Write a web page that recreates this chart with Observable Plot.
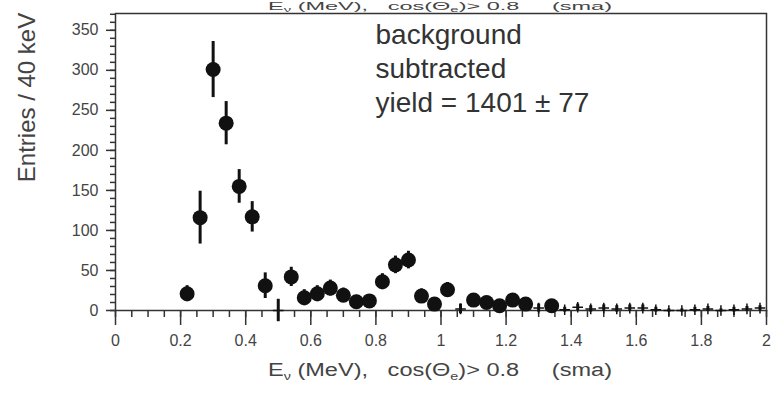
<!DOCTYPE html>
<html>
<head>
<meta charset="utf-8">
<script src="https://cdn.jsdelivr.net/npm/d3@7"></script>
<script src="https://cdn.jsdelivr.net/npm/@observablehq/plot@0.6"></script>
<style>
  html, body { margin: 0; padding: 0; background: #fff; }
  #chart { width: 777px; height: 393px; }
  svg { font-family: "Liberation Sans", Arial, sans-serif; }
</style>
</head>
<body>
<div id="chart"></div>
<script>
// Neutrino energy spectrum, 40 keV bins (bin centres in MeV)
const energy = [
  0.22, 0.26, 0.30, 0.34, 0.38, 0.42, 0.46, 0.50, 0.54, 0.58,
  0.62, 0.66, 0.70, 0.74, 0.78, 0.82, 0.86, 0.90, 0.94, 0.98,
  1.02, 1.06, 1.10, 1.14, 1.18, 1.22, 1.26, 1.30, 1.34, 1.38,
  1.42, 1.46, 1.50, 1.54, 1.58, 1.62, 1.66, 1.70, 1.74, 1.78,
  1.82, 1.86, 1.90, 1.94, 1.98
];
// Background-subtracted entries per bin
const entries = [
  21, 116, 301, 234, 155, 117, 31, 0, 42, 16,
  21, 28, 19, 11, 12, 36, 57, 63, 18, 8,
  26, 2, 13, 10, 6, 13, 8, 3, 6, 1,
  4, 2, 3, 2, 3, 3, 1, 0, 0, 1,
  2, 0, 1, 2, 3
];
// Statistical uncertainty per bin
const errors = [
  10, 33, 35, 27, 21, 19, 16, 14, 12, 10,
  10, 10, 9, 8, 8, 10, 11, 11, 9, 8,
  9, 6, 7, 7, 6, 7, 6, 5, 5, 3,
  4, 4, 4, 4, 4, 4, 3, 2, 2, 3,
  3, 2, 3, 3, 3
];

const xMajorTicks = [0, 0.2, 0.4, 0.6, 0.8, 1, 1.2, 1.4, 1.6, 1.8, 2];
const xMinorTicks = d3.range(0, 2.001, 0.05);
const yMajorTicks = [0, 50, 100, 150, 200, 250, 300, 350];
const yMinorTicks = d3.range(0, 371, 10);

const annotation = ["background", "subtracted", "yield = 1401 \u00b1 77"];
const yLabel = "Entries / 40 keV";

const rows = energy.map((e, i) => ({e, n: entries[i], err: errors[i]}));
const filled = rows.filter(d => d.n >= 5);
const faint = rows.filter(d => d.n < 5);

const ink = "#111";
const axisInk = "#333";
const labelInk = "#444";

const plot = Plot.plot({
  width: 777,
  height: 393,
  marginLeft: 115,
  marginRight: 11,
  marginTop: 13,
  marginBottom: 83,
  style: {fontFamily: "'Liberation Sans', Arial, sans-serif", fontSize: "16px", color: labelInk, background: "#fff"},
  x: {domain: [0, 2]},
  y: {domain: [0, 371]},
  marks: [
    Plot.frame({stroke: axisInk, strokeWidth: 1.5}),
    Plot.axisX({ticks: xMinorTicks, tickSize: 7, text: null, label: null, stroke: axisInk, strokeWidth: 1.5}),
    Plot.axisX({ticks: xMajorTicks, tickSize: 15, tickPadding: 9, label: null, stroke: axisInk, strokeWidth: 1.5,
                fontSize: 16, fill: labelInk, tickFormat: d => String(+d.toFixed(1))}),
    Plot.axisY({ticks: yMinorTicks, tickSize: 5, text: null, label: null, stroke: axisInk, strokeWidth: 1.5}),
    Plot.axisY({ticks: yMajorTicks, tickSize: 9, tickPadding: 8, label: null, stroke: axisInk, strokeWidth: 1.5,
                fontSize: 16, fill: labelInk}),
    // error bars
    Plot.ruleX(rows, {x: "e", y1: d => d.n - d.err, y2: d => d.n + d.err, stroke: ink, strokeWidth: 3}),
    // data points
    Plot.dot(filled, {x: "e", y: "n", r: 7.5, fill: ink, stroke: null}),
    Plot.dot(faint, {x: "e", y: "n", symbol: "plus", r: 3.5, stroke: ink, strokeWidth: 1.5}),
    // annotation block
    Plot.text([annotation.join("\n")], {
      text: d => d, frameAnchor: "top-left", dx: 260, dy: 6,
      textAnchor: "start", lineAnchor: "top", lineHeight: 1.22,
      fontSize: 28, fill: "#333"
    }),
    // y-axis title
    Plot.text([yLabel], {
      text: d => d, frameAnchor: "top-left", dx: -98, dy: 84,
      rotate: -90, textAnchor: "middle", fontSize: 24, fill: labelInk
    })
  ]
});

document.getElementById("chart").appendChild(plot);

// x-axis title with sub-scripted symbols; a compact copy sits along the top edge
const svg = d3.select(plot);
function axisTitle(yBase, size, length) {
  const sub = Math.round(size * 0.62);
  const shift = Math.round(size * 0.22);
  const t = svg.append("text")
    .attr("x", 440).attr("y", yBase)
    .attr("text-anchor", "middle")
    .attr("fill", labelInk)
    .attr("textLength", length)
    .attr("lengthAdjust", "spacingAndGlyphs")
    .style("font-size", size + "px")
    .style("white-space", "pre");
  t.append("tspan").text("E");
  t.append("tspan").attr("dy", shift).style("font-size", sub + "px").text("\u03bd");
  t.append("tspan").attr("dy", -shift).text(" (MeV),   cos(\u0398");
  t.append("tspan").attr("dy", shift).style("font-size", sub + "px").text("e");
  t.append("tspan").attr("dy", -shift).text(")> 0.8     (sma)");
}
axisTitle(376, 18, 344);
axisTitle(10, 11, 344);
</script>
</body>
</html>
